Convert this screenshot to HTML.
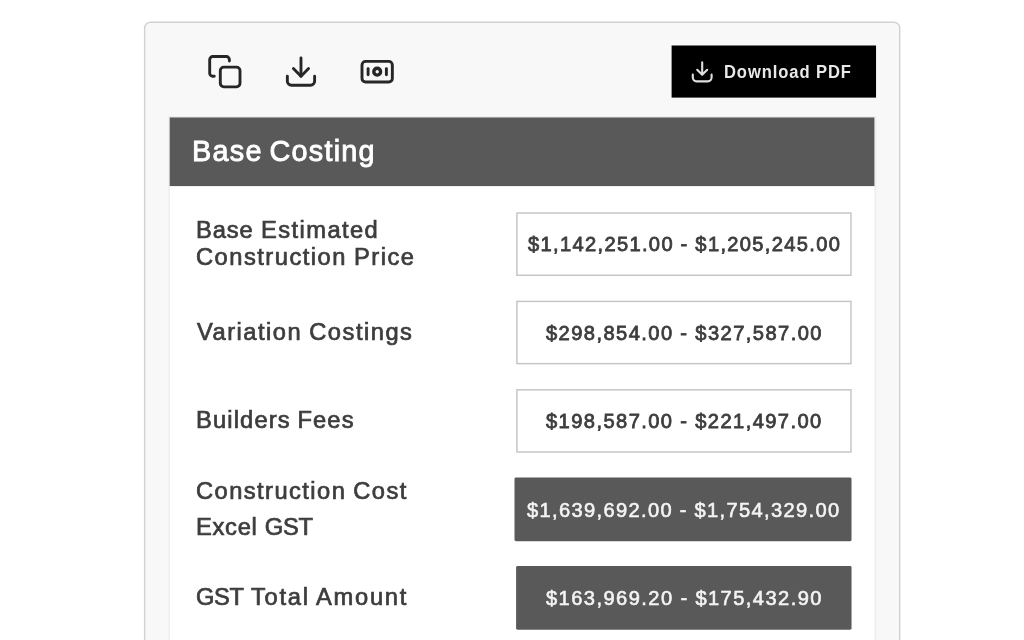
<!DOCTYPE html>
<html lang="en">
<head>
<meta charset="utf-8">
<title>Base Costing</title>
<style>
*{box-sizing:border-box;margin:0;padding:0}
html,body{width:1024px;height:640px;overflow:hidden;background:#fff}
body{font-family:"Liberation Sans",sans-serif;color:#3d3d3d;position:relative}
.bx,.vb,.card,.card-in,.btn,.head,.panel,.pwrap{position:absolute;left:0;top:0;transform-origin:0 0}
.card{background:#d2d2d2;border-radius:6.5px}
.card-in{background:#f8f8f8;border-radius:5px}
.pwrap{background:#eee}
.panel{background:#fff}
.head{background:#595959}
.btn{background:#000}
.vb{background:#c4c4c4}
.vb.in{background:#fff}
.vb.dark{background:#595959;border-radius:1.5px}
.icons{position:absolute;left:0;top:0;width:1024px;height:640px;pointer-events:none}
.t{position:absolute;white-space:nowrap;line-height:1;font-weight:normal;transform-origin:0 0;filter:blur(.3px)}
.lbl{-webkit-text-stroke:.7px #3d3d3d}
.num{-webkit-text-stroke:.8px #3d3d3d}
.num.w{color:#f4f4f4;-webkit-text-stroke:.6px #f4f4f4}
.h{color:#fff;-webkit-text-stroke:.9px #fff}
.b{color:#e8e8e8;font-weight:bold}
</style>
</head>
<body>
<div class="card" style="width:757px;height:678px;transform:translate(143.9px,21.6px) scale(0.9994,1.0006)"></div>
<div class="card-in" style="width:754px;height:677px;transform:translate(145.35px,23.05px) scale(0.9995,0.9999)"></div>
<svg class="icons" viewBox="0 0 1024 640" fill="none" stroke="#262626" stroke-width="2.9" stroke-linecap="round" stroke-linejoin="round">
<g transform="translate(206.67 53.5) scale(1.515)" stroke-width="1.9"><rect x="9" y="9" width="13" height="13" rx="2.3" ry="2.3"/><path d="M5 15H4a2 2 0 0 1-2-2V4a2 2 0 0 1 2-2h9a2 2 0 0 1 2 2v1"/></g>
<g transform="translate(282.8 53.45) scale(1.515)" stroke-width="1.9"><path d="M21 15v3.3a2.7 2.7 0 0 1-2.7 2.7H5.7a2.7 2.7 0 0 1-2.7-2.7v-3.3"/><polyline points="7 10 12 15 17 10"/><line x1="12" y1="15" x2="12" y2="3"/></g>
<g><rect x="362" y="61.4" width="30.35" height="20.6" rx="3.6"/><line x1="368.1" y1="68.6" x2="368.1" y2="74.85"/><line x1="386.4" y1="68.6" x2="386.4" y2="74.85"/><circle cx="377.2" cy="71.7" r="3.4" stroke-width="3.4"/></g>
</svg>
<div class="btn" style="width:204px;height:52px;transform:translate(671.6px,45.5px) scale(1.0022,1.0019)"></div>
<svg class="icons" viewBox="0 0 1024 640" fill="none" stroke="#dedede" stroke-width="2.1" stroke-linecap="round" stroke-linejoin="round">
<path d="M692.8 74.6v3a3.8 3.8 0 0 0 3.8 3.8h11.2a3.8 3.8 0 0 0 3.8-3.8v-3"/><path d="M697.2 69.8l5 5 5-5M702.2 74.8V62.4"/>
</svg>
<span class="t b" style="left:723.93px;top:63.0px;font-size:18px;letter-spacing:0.991px;transform:scale(0.92,1.0)">Download PDF</span>
<div class="pwrap" style="width:708px;height:584px;transform:translate(168.4px,116px) scale(0.9996,1)"></div>
<div class="panel" style="width:705px;height:583px;transform:translate(169.85px,117.45px) scale(0.9995,0.9992)"></div>
<div class="head" style="width:705px;height:69px;transform:translate(169.7px,117.45px) scale(0.9996,0.9949)"></div>
<h2 class="t h" style="left:191.66px;top:136px;font-size:30px;letter-spacing:1.306px;word-spacing:-2.6px;transform:scale(0.96,1.0)">Base Costing</h2>
<span class="t lbl" style="left:195.62px;top:218.75px;font-size:23.0px;letter-spacing:1.373px;word-spacing:-0.6px;transform:scale(1.03,1.0)"><span style="letter-spacing:0.9px">Base</span> Estimated</span>
<span class="t lbl" style="left:196.46px;top:246.25px;font-size:23.0px;letter-spacing:1.453px;word-spacing:-1.0px;transform:scale(1.03,1.0)">Construction Price</span>
<div class="vb" style="width:336px;height:64px;transform:translate(516.2px,212.3px) scale(0.9985,0.9945)"></div><div class="vb in" style="width:333px;height:61px;transform:translate(517.65px,213.75px) scale(0.9988,0.9959)"></div>
<span class="t num" style="left:528.13px;top:234.0px;font-size:20.5px;letter-spacing:1.367px;word-spacing:-0.2px;transform:scale(0.98,1.0)">$1,142,251.00 - $1,205,245.00</span>
<span class="t lbl" style="left:196.88px;top:320.75px;font-size:23.0px;letter-spacing:1.453px;word-spacing:-1.0px;transform:scale(1.03,1.0)">Variation Costings</span>
<div class="vb" style="width:336px;height:64px;transform:translate(516.2px,300.7px) scale(0.9985,0.9945)"></div><div class="vb in" style="width:333px;height:61px;transform:translate(517.65px,302.15px) scale(0.9988,0.9959)"></div>
<span class="t num" style="left:546.14px;top:323.0px;font-size:20.5px;letter-spacing:1.468px;word-spacing:-0.2px;transform:scale(0.98,1.0)">$298,854.00 - $327,587.00</span>
<span class="t lbl" style="left:195.93px;top:408.9px;font-size:23.0px;letter-spacing:1.108px;word-spacing:-1.0px;transform:scale(1.03,1.0)">Builders Fees</span>
<div class="vb" style="width:336px;height:64px;transform:translate(516.2px,389.1px) scale(0.9985,0.9945)"></div><div class="vb in" style="width:333px;height:61px;transform:translate(517.65px,390.55px) scale(0.9988,0.9959)"></div>
<span class="t num" style="left:546.19px;top:411.0px;font-size:20.5px;letter-spacing:1.46px;word-spacing:-0.2px;transform:scale(0.98,1.0)">$198,587.00 - $221,497.00</span>
<span class="t lbl" style="left:195.51px;top:479.8px;font-size:23.0px;letter-spacing:1.396px;word-spacing:-1.0px;transform:scale(1.03,1.0)">Construction Cost</span>
<span class="t lbl" style="left:195.97px;top:516.0px;font-size:23.0px;letter-spacing:0.701px;transform:scale(1.03,1.0)">Excel <span style="letter-spacing:-0.3px">GST</span></span>
<div class="vb dark" style="width:337px;height:64px;transform:translate(514.5px,477.5px) scale(1.0001,0.9961)"></div>
<span class="t num w" style="left:527.28px;top:499.9px;font-size:20.5px;letter-spacing:1.375px;word-spacing:-0.2px;transform:scale(0.98,1.0)">$1,639,692.00 - $1,754,329.00</span>
<span class="t lbl" style="left:195.87px;top:586.1px;font-size:23.0px;letter-spacing:1.697px;word-spacing:-0.75px;transform:scale(1.03,1.0)"><span style="letter-spacing:-0.3px">GST</span> Total Amount</span>
<div class="vb dark" style="width:335px;height:64px;transform:translate(516.1px,565.9px) scale(1.0013,0.9961)"></div>
<span class="t num w" style="left:545.64px;top:588px;font-size:20.5px;letter-spacing:1.472px;word-spacing:-0.2px;transform:scale(0.98,1.0)">$163,969.20 - $175,432.90</span>
</body>
</html>
